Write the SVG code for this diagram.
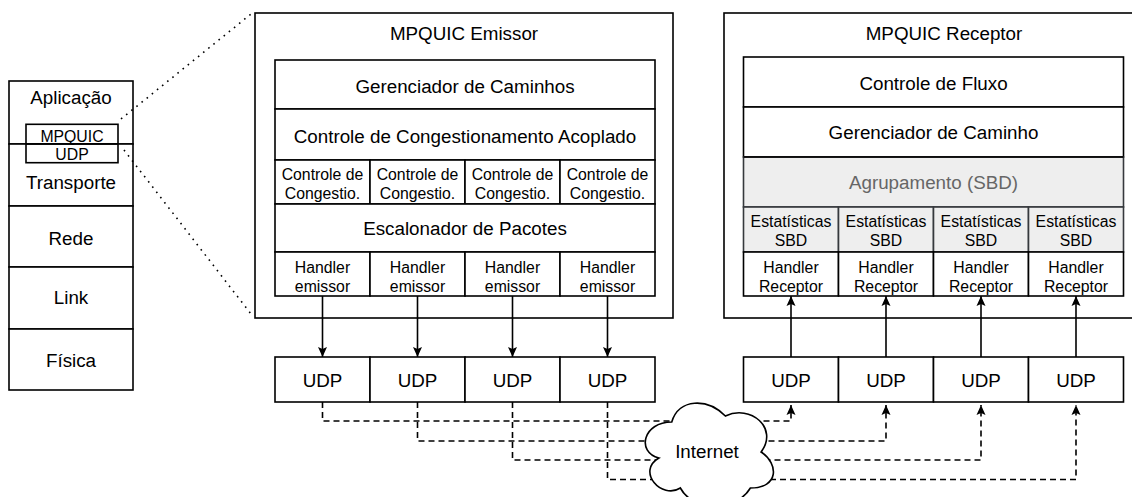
<svg xmlns="http://www.w3.org/2000/svg" width="1132" height="497" viewBox="0 0 1132 497">
  <style>
    text { font-family: "Liberation Sans", Arial, Helvetica, sans-serif; fill: #000; text-anchor: middle; }
    .big { font-size: 18.8px; }
    .small { font-size: 15.8px; }
    .box { fill: #fff; stroke: #000; stroke-width: 1.6; }
    .grey { fill: #eeeeee; stroke: #36393d; stroke-width: 1.6; }
    .muted { fill: #666; }
    .wire { fill: none; stroke: #000; stroke-width: 1.6; }
    .dash { fill: none; stroke: #000; stroke-width: 1.6; stroke-dasharray: 6 4; }
    .dot { fill: none; stroke: #000; stroke-width: 1.6; stroke-dasharray: 1.6 5; }
  </style>
  <defs>
    <marker id="arrow" viewBox="0 0 10 10" refX="10" refY="5" markerWidth="10" markerHeight="10" markerUnits="userSpaceOnUse" orient="auto">
      <path d="M0,0.5 L10,5 L0,9.5 L2,5 Z" fill="#000"/>
    </marker>
  </defs>

  <rect width="1132" height="497" fill="#fff"/>

  <!-- protocol stack -->
  <g id="stack">
    <rect class="box" x="9" y="81" width="124" height="63"/>
    <rect class="box" x="9" y="144" width="124" height="62"/>
    <rect class="box" x="9" y="206" width="124" height="61"/>
    <rect class="box" x="9" y="267" width="124" height="62"/>
    <rect class="box" x="9" y="329" width="124" height="61"/>
    <text class="big" x="71" y="104">Aplicação</text>
    <text class="big" x="71" y="189">Transporte</text>
    <text class="big" x="71" y="244.5">Rede</text>
    <text class="big" x="71" y="303.5">Link</text>
    <text class="big" x="71" y="366.5">Física</text>
  </g>
  <g id="stack-mpquic">
    <rect x="26" y="124.3" width="92" height="38.4" fill="none" stroke="#000" stroke-width="1.6"/>
    <line x1="26" y1="144" x2="118" y2="144" stroke="#000" stroke-width="1.6"/>
    <text class="small" x="72" y="141.5">MPQUIC</text>
    <text class="small" x="72" y="160">UDP</text>
  </g>

  <!-- zoom guides -->
  <g id="zoom-guides">
    <line class="dot" x1="121" y1="119" x2="251" y2="14"/>
    <line class="dot" x1="124" y1="150" x2="251" y2="314"/>
  </g>

  <!-- sender -->
  <g id="emissor">
    <rect class="box" x="255" y="13" width="418" height="305"/>
    <text class="big" x="464" y="40">MPQUIC Emissor</text>
    <rect class="box" x="275" y="60" width="380" height="49"/>
    <text class="big" x="465" y="92.5">Gerenciador de Caminhos</text>
    <rect class="box" x="275" y="109" width="380" height="51"/>
    <text class="big" x="465" y="142.5">Controle de Congestionamento Acoplado</text>
    <rect class="box" x="275" y="160" width="95" height="44"/>
    <rect class="box" x="370" y="160" width="95" height="44"/>
    <rect class="box" x="465" y="160" width="95" height="44"/>
    <rect class="box" x="560" y="160" width="95" height="44"/>
    <text class="small" x="322.5" y="180">Controle de</text>
    <text class="small" x="322.5" y="199">Congestio.</text>
    <text class="small" x="417.5" y="180">Controle de</text>
    <text class="small" x="417.5" y="199">Congestio.</text>
    <text class="small" x="512.5" y="180">Controle de</text>
    <text class="small" x="512.5" y="199">Congestio.</text>
    <text class="small" x="607.5" y="180">Controle de</text>
    <text class="small" x="607.5" y="199">Congestio.</text>
    <rect class="box" x="275" y="204" width="380" height="48"/>
    <text class="big" x="465" y="235">Escalonador de Pacotes</text>
    <rect class="box" x="275" y="252" width="95" height="44"/>
    <rect class="box" x="370" y="252" width="95" height="44"/>
    <rect class="box" x="465" y="252" width="95" height="44"/>
    <rect class="box" x="560" y="252" width="95" height="44"/>
    <text class="small" x="322.5" y="273">Handler</text>
    <text class="small" x="322.5" y="292">emissor</text>
    <text class="small" x="417.5" y="273">Handler</text>
    <text class="small" x="417.5" y="292">emissor</text>
    <text class="small" x="512.5" y="273">Handler</text>
    <text class="small" x="512.5" y="292">emissor</text>
    <text class="small" x="607.5" y="273">Handler</text>
    <text class="small" x="607.5" y="292">emissor</text>
  </g>

  <!-- receiver -->
  <g id="receptor">
    <rect class="box" x="724" y="13" width="440" height="305"/>
    <text class="big" x="944" y="40">MPQUIC Receptor</text>
    <rect class="box" x="743.5" y="57" width="380" height="50"/>
    <text class="big" x="933.5" y="89.5">Controle de Fluxo</text>
    <rect class="box" x="743.5" y="107" width="380" height="50"/>
    <text class="big" x="933.5" y="138.5">Gerenciador de Caminho</text>
    <rect class="grey" x="743.5" y="157" width="380" height="50"/>
    <line x1="743.5" y1="157" x2="1123.5" y2="157" stroke="#000" stroke-width="1.6"/>
    <text class="big muted" x="933.5" y="188.5">Agrupamento (SBD)</text>
    <rect class="grey" x="743.5" y="207" width="95" height="45"/>
    <rect class="grey" x="838.5" y="207" width="95" height="45"/>
    <rect class="grey" x="933.5" y="207" width="95" height="45"/>
    <rect class="grey" x="1028.5" y="207" width="95" height="45"/>
    <text class="small" x="791" y="226.7">Estatísticas</text>
    <text class="small" x="791" y="245.7">SBD</text>
    <text class="small" x="886" y="226.7">Estatísticas</text>
    <text class="small" x="886" y="245.7">SBD</text>
    <text class="small" x="981" y="226.7">Estatísticas</text>
    <text class="small" x="981" y="245.7">SBD</text>
    <text class="small" x="1076" y="226.7">Estatísticas</text>
    <text class="small" x="1076" y="245.7">SBD</text>
    <rect class="box" x="743.5" y="252" width="95" height="44"/>
    <rect class="box" x="838.5" y="252" width="95" height="44"/>
    <rect class="box" x="933.5" y="252" width="95" height="44"/>
    <rect class="box" x="1028.5" y="252" width="95" height="44"/>
    <text class="small" x="791" y="273">Handler</text>
    <text class="small" x="791" y="291.5">Receptor</text>
    <text class="small" x="886" y="273">Handler</text>
    <text class="small" x="886" y="291.5">Receptor</text>
    <text class="small" x="981" y="273">Handler</text>
    <text class="small" x="981" y="291.5">Receptor</text>
    <text class="small" x="1076" y="273">Handler</text>
    <text class="small" x="1076" y="291.5">Receptor</text>
  </g>

  <!-- UDP sockets, sender side -->
  <g id="udp-emissor">
    <rect class="box" x="275" y="357" width="95" height="45"/>
    <rect class="box" x="370" y="357" width="95" height="45"/>
    <rect class="box" x="465" y="357" width="95" height="45"/>
    <rect class="box" x="560" y="357" width="95" height="45"/>
    <text class="big" x="322.5" y="386.5">UDP</text>
    <text class="big" x="417.5" y="386.5">UDP</text>
    <text class="big" x="512.5" y="386.5">UDP</text>
    <text class="big" x="607.5" y="386.5">UDP</text>
  </g>

  <!-- UDP sockets, receiver side -->
  <g id="udp-receptor">
    <rect class="box" x="743.5" y="357" width="95" height="45"/>
    <rect class="box" x="838.5" y="357" width="95" height="45"/>
    <rect class="box" x="933.5" y="357" width="95" height="45"/>
    <rect class="box" x="1028.5" y="357" width="95" height="45"/>
    <text class="big" x="791" y="386.5">UDP</text>
    <text class="big" x="886" y="386.5">UDP</text>
    <text class="big" x="981" y="386.5">UDP</text>
    <text class="big" x="1076" y="386.5">UDP</text>
  </g>

  <!-- connectors -->
  <g id="connectors">
    <line class="wire" x1="322.5" y1="296" x2="322.5" y2="357" marker-end="url(#arrow)"/>
    <line class="wire" x1="417.5" y1="296" x2="417.5" y2="357" marker-end="url(#arrow)"/>
    <line class="wire" x1="512.5" y1="296" x2="512.5" y2="357" marker-end="url(#arrow)"/>
    <line class="wire" x1="607.5" y1="296" x2="607.5" y2="357" marker-end="url(#arrow)"/>

    <line class="wire" x1="791" y1="357" x2="791" y2="296" marker-end="url(#arrow)"/>
    <line class="wire" x1="886" y1="357" x2="886" y2="296" marker-end="url(#arrow)"/>
    <line class="wire" x1="981" y1="357" x2="981" y2="296" marker-end="url(#arrow)"/>
    <line class="wire" x1="1076" y1="357" x2="1076" y2="296" marker-end="url(#arrow)"/>

    <path class="dash" d="M322.5,402 V421 H791 V405" marker-end="url(#arrow)"/>
    <path class="dash" d="M417.5,402 V441 H886 V405" marker-end="url(#arrow)"/>
    <path class="dash" d="M512.5,402 V460 H981 V405" marker-end="url(#arrow)"/>
    <path class="dash" d="M607.5,402 V479.5 H1076 V405" marker-end="url(#arrow)"/>
  </g>

  <!-- internet cloud -->
  <g id="internet">
    <path class="box" d="M671.75,422 C643.15,422 636,452 658.88,458 C636,471.2 661.74,500 680.33,488 C693.2,512 736.1,512 750.4,488 C779,488 779,464 761.13,452 C779,428 750.4,404 725.38,416 C707.5,398 678.9,398 671.75,422 Z"/>
    <text class="big" x="707" y="458.3">Internet</text>
  </g>
</svg>
